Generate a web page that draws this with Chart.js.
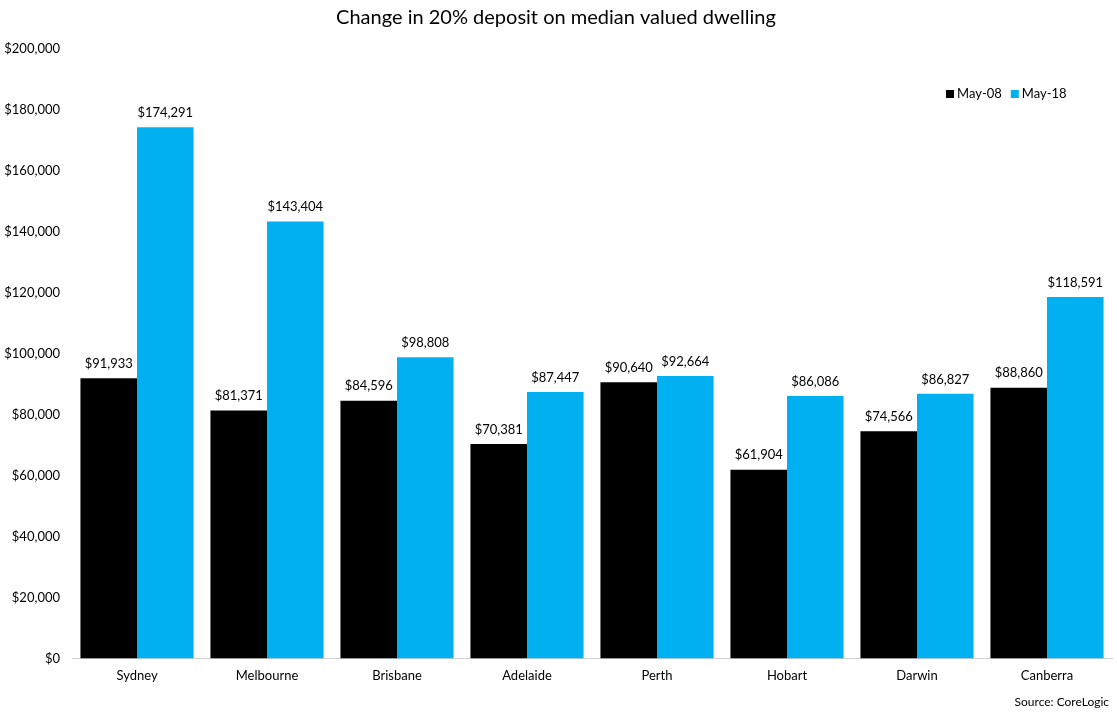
<!DOCTYPE html>
<html><head><meta charset="utf-8">
<script src="https://cdn.jsdelivr.net/npm/chart.js@4"></script>
<style>html,body{margin:0;padding:0;background:#fff}#wrap{width:1117px;height:714px}</style>
</head><body><div id="wrap"><canvas id="c"></canvas></div>
<script>
const categories = ["Sydney","Melbourne","Brisbane","Adelaide","Perth","Hobart","Darwin","Canberra"];
const may08 = [91933,81371,84596,70381,90640,61904,74566,88860];
const may18 = [174291,143404,98808,87447,92664,86086,86827,118591];
const seriesNames = ["May-08","May-18"];
const titleText = "Change in 20% deposit on median valued dwelling";
const sourceText = "Source: CoreLogic";
const FONT = "Lato, 'Open Sans', sans-serif";
const fmt = v => "$" + v.toLocaleString("en-US");

const labelsPlugin = {
  id: "extras",
  afterDatasetsDraw(chart) {
    const ctx = chart.ctx;
    ctx.save();
    ctx.font = "13px " + FONT;
    ctx.fillStyle = "#000";
    ctx.textAlign = "center";
    ctx.textBaseline = "bottom";
    chart.data.datasets.forEach((ds, i) => {
      chart.getDatasetMeta(i).data.forEach((bar, j) => {
        ctx.fillText(fmt(ds.data[j]), bar.x, bar.y - 8);
      });
    });
    // legend
    let x = 946, y = 94;
    ctx.textAlign = "left";
    ctx.textBaseline = "middle";
    chart.data.datasets.forEach((ds) => {
      ctx.fillStyle = ds.backgroundColor;
      ctx.fillRect(x, y - 4, 8, 8);
      ctx.fillStyle = "#000";
      ctx.fillText(ds.label, x + 11, y);
      x += 11 + ctx.measureText(ds.label).width + 9;
    });
    // source
    ctx.font = "12px " + FONT;
    ctx.textAlign = "right";
    ctx.fillText(sourceText, 1109, 702);
    ctx.restore();
  }
};

new Chart(document.getElementById("c"), {
  type: "bar",
  data: {
    labels: categories,
    datasets: [
      {label: seriesNames[0], data: may08, backgroundColor: "#000000"},
      {label: seriesNames[1], data: may18, backgroundColor: "#00B0F0"}
    ]
  },
  options: {
    responsive: true, maintainAspectRatio: false, animation: false,
    layout: {padding: {left: 0, right: 5, top: 4, bottom: 20}},
    categoryPercentage: 0.87, barPercentage: 1,
    plugins: {
      legend: {display: false},
      tooltip: {enabled: false},
      title: {display: true, text: titleText, color: "#000",
        font: {family: FONT, size: 20, weight: "normal"}, padding: {top: 2, bottom: 19}}
    },
    scales: {
      x: {
        grid: {display: false, drawTicks: false},
        border: {display: true, color: "#d0d0d0", width: 1},
        ticks: {color: "#000", font: {family: FONT, size: 13}, padding: 10}
      },
      y: {
        min: 0, max: 200000,
        grid: {display: false, drawTicks: false},
        border: {display: false},
        afterFit: s => { s.width = 72; },
        ticks: {stepSize: 20000, color: "#000", font: {family: FONT, size: 13}, padding: 12,
          callback: v => fmt(v)}
      }
    }
  },
  plugins: [labelsPlugin]
});
</script></body></html>
